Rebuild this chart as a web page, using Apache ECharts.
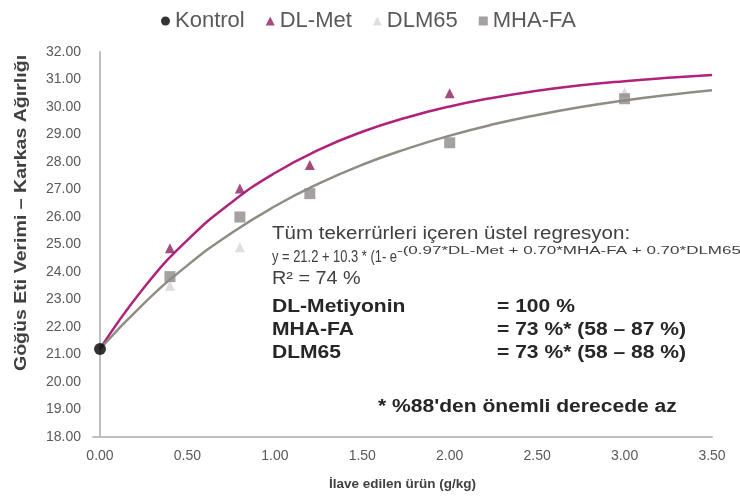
<!DOCTYPE html>
<html><head><meta charset="utf-8">
<script src="https://cdn.jsdelivr.net/npm/echarts@6/dist/echarts.min.js"></script>
<style>html,body{margin:0;padding:0;background:#fff}#c{width:740px;height:499px}</style>
</head><body><div id="c"></div>
<script>
// ---- data ----
const xTickValues = [0, 0.5, 1, 1.5, 2, 2.5, 3, 3.5];
const kontrolX = [0];
const kontrolY = [21.2];
const dlMetX = [0.4, 0.8, 1.2, 2.0];
const dlMetY = [24.86, 27.04, 27.89, 30.5];
const dlm65X = [0.4, 0.8, 3.0];
const dlm65Y = [23.5, 24.9, 30.55];
const mhaX = [0.4, 0.8, 1.2, 2.0, 3.0];
const mhaY = [23.83, 26.0, 26.85, 28.7, 30.3];
// fitted regression curves
const curveX = [0, 0.25, 0.5, 0.75, 1.0, 1.25, 1.5, 1.75, 2.0, 2.25, 2.5, 2.75, 3.0, 3.25, 3.5];
const curveDlMetY = [21.2, 23.42, 25.16, 26.52, 27.6, 28.44, 29.1, 29.61, 30.02, 30.34, 30.59, 30.79, 30.94, 31.06, 31.16];
const curveOtherY = [21.2, 22.85, 24.24, 25.41, 26.39, 27.21, 27.9, 28.47, 28.96, 29.37, 29.71, 30.0, 30.24, 30.44, 30.61];

const legendNames = ['Kontrol', 'DL-Met', 'DLM65', 'MHA-FA'];
const yAxisName = 'Göğüs Eti Verimi – Karkas Ağırlığı';
const xAxisName = 'İlave edilen ürün (g/kg)';

const zip = (xs, ys) => xs.map((x, i) => [x, ys[i]]);
const FF = '"Liberation Sans", Arial, sans-serif';

function txt(x, y, text, size, sx, bold, color) {
  return {type: 'text', x: x, y: y, scaleX: sx, silent: true, z: 10,
    style: {text: text, fontSize: size, fontWeight: bold ? 'bold' : 'normal',
      fill: color || (bold ? '#262626' : '#404040'), fontFamily: FF,
      align: 'left', verticalAlign: 'middle'}};
}

const chart = echarts.init(document.getElementById('c'), null, {renderer: 'canvas'});
chart.setOption({
  animation: false,
  backgroundColor: '#fff',
  textStyle: {fontFamily: FF},
  legend: {
    data: legendNames,
    top: 5, left: 156,
    itemWidth: 9, itemHeight: 9, itemGap: 21,
    textStyle: {fontSize: 22, color: '#595959', fontFamily: FF}
  },
  grid: {left: 93, top: 52, width: 619, height: 385, containLabel: false},
  xAxis: {
    type: 'value', min: -0.04, max: 3.5,
    axisLine: {show: true, lineStyle: {color: '#BFBFBF', width: 2}},
    axisTick: {show: false},
    splitLine: {show: false},
    axisLabel: {customValues: xTickValues, formatter: v => v.toFixed(2), fontSize: 14, color: '#595959', margin: 12, fontFamily: FF},
    name: xAxisName, nameLocation: 'middle', nameGap: 40,
    nameTextStyle: {fontSize: 13.5, fontWeight: 'bold', color: '#404040', fontFamily: FF}
  },
  yAxis: {
    type: 'value', min: 18, max: 32, interval: 1,
    axisLine: {show: true, lineStyle: {color: '#BFBFBF', width: 2}},
    axisTick: {show: false},
    splitLine: {show: false},
    axisLabel: {formatter: v => v.toFixed(2), fontSize: 14, color: '#595959', margin: 12, fontFamily: FF}
  },
  series: [
    {name: 'fitDL', type: 'line', data: zip(curveX, curveDlMetY), smooth: true, showSymbol: false,
     lineStyle: {color: '#B0237A', width: 2.5}, z: 2, silent: true},
    {name: 'fitOther', type: 'line', data: zip(curveX, curveOtherY), smooth: true, showSymbol: false,
     lineStyle: {color: '#8F8D83', width: 2.5}, z: 2, silent: true},
    {name: 'Kontrol', type: 'scatter', data: zip(kontrolX, kontrolY), symbol: 'circle', symbolSize: 12,
     itemStyle: {color: '#000'}, z: 5},
    {name: 'DLM65', type: 'scatter', data: zip(dlm65X, dlm65Y), symbol: 'triangle', symbolSize: 10,
     itemStyle: {color: '#DAD3D5'}, z: 4},
    {name: 'MHA-FA', type: 'scatter', data: zip(mhaX, mhaY), symbol: 'rect', symbolSize: 11,
     itemStyle: {color: '#8E8889'}, z: 4},
    {name: 'DL-Met', type: 'scatter', data: zip(dlMetX, dlMetY), symbol: 'triangle', symbolSize: 10,
     itemStyle: {color: '#8A1E5E'}, z: 5}
  ],
  graphic: [
    {type: 'text', x: 21, y: 213, rotation: Math.PI / 2, scaleX: 1.15, silent: true,
     style: {text: yAxisName, fontSize: 17, fontWeight: 'bold', fill: '#404040', fontFamily: FF, align: 'center', verticalAlign: 'middle'}},
    txt(272, 234, 'Tüm tekerrürleri içeren üstel regresyon:', 18, 1.14, false),
    txt(272, 257, 'y = 21.2 + 10.3 * (1- e', 17, 0.76, false),
    txt(397, 251, '-(0.97*DL-Met + 0.70*MHA-FA + 0.70*DLM65)*x)', 10, 1.7, false),
    txt(272, 279, 'R² = 74 %', 18, 1.1, false),
    txt(272, 307, 'DL-Metiyonin', 18, 1.17, true),
    txt(497, 307, '= 100 %', 18, 1.17, true),
    txt(272, 330, 'MHA-FA', 18, 1.17, true),
    txt(497, 330, '= 73 %* (58 – 87 %)', 18, 1.17, true),
    txt(272, 353, 'DLM65', 18, 1.17, true),
    txt(497, 353, '= 73 %* (58 – 88 %)', 18, 1.17, true),
    txt(378, 407, '* %88\'den önemli derecede az', 18, 1.17, true)
  ]
});
</script>
</body></html>
